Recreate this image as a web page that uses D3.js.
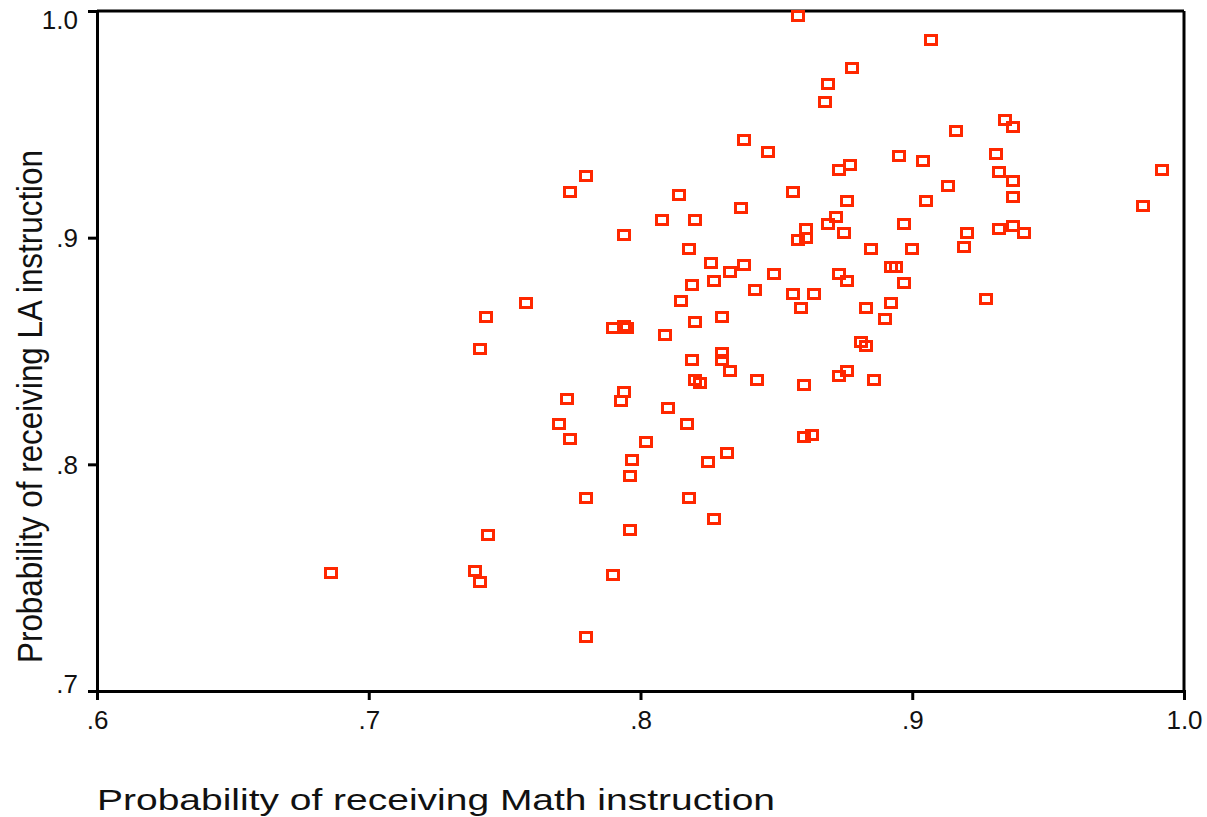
<!DOCTYPE html>
<html>
<head>
<meta charset="utf-8">
<script src="https://cdn.jsdelivr.net/npm/d3@7"></script>
<style>
  body { margin: 0; background: #fff; }
  text { font-family: "Liberation Sans", Arial, sans-serif; }
</style>
</head>
<body>
<div id="chart"></div>
<script>
// Probability of receiving Math instruction (x) vs LA instruction (y), one square per school
const mathProb = [
  0.858, 0.907, 0.878, 0.869, 0.868, 0.934, 0.937, 0.916, 0.838, 0.847,
  0.931, 0.895, 0.904, 0.873, 0.877, 0.992, 0.932, 0.937, 0.913, 0.856,
  0.937, 0.876, 0.905, 0.985, 0.837, 0.872, 0.869, 0.897, 0.875, 0.861,
  0.861, 0.858, 0.920, 0.932, 0.937, 0.941, 0.919, 0.885, 0.900, 0.838,
  0.849, 0.842, 0.873, 0.876, 0.892, 0.894, 0.897, 0.856, 0.864, 0.859,
  0.883, 0.892, 0.927, 0.890, 0.881, 0.883, 0.843, 0.873, 0.876, 0.860,
  0.886, 0.860, 0.863, 0.780, 0.774, 0.814, 0.808, 0.820, 0.794, 0.818,
  0.826, 0.833, 0.827, 0.819, 0.815, 0.758, 0.743, 0.830, 0.820, 0.790,
  0.794, 0.795, 0.809, 0.741, 0.819, 0.830, 0.830, 0.833, 0.820, 0.822,
  0.794, 0.793, 0.773, 0.810, 0.770, 0.817, 0.774, 0.802, 0.797, 0.832,
  0.825, 0.796, 0.780, 0.818, 0.744, 0.827, 0.796, 0.686, 0.739, 0.741,
  0.790, 0.780
];
const laProb = [
  0.998, 0.987, 0.975, 0.968, 0.960, 0.952, 0.949, 0.947, 0.943, 0.938,
  0.937, 0.936, 0.934, 0.930, 0.932, 0.930, 0.929, 0.925, 0.923, 0.920,
  0.918, 0.916, 0.916, 0.914, 0.913, 0.909, 0.906, 0.906, 0.902, 0.904,
  0.900, 0.899, 0.902, 0.904, 0.905, 0.902, 0.896, 0.895, 0.895, 0.888,
  0.884, 0.877, 0.884, 0.881, 0.887, 0.887, 0.880, 0.875, 0.875, 0.869,
  0.869, 0.871, 0.873, 0.864, 0.854, 0.852, 0.837, 0.839, 0.841, 0.835,
  0.837, 0.812, 0.813, 0.927, 0.920, 0.919, 0.908, 0.908, 0.901, 0.895,
  0.889, 0.885, 0.881, 0.879, 0.872, 0.871, 0.865, 0.865, 0.863, 0.860,
  0.861, 0.860, 0.857, 0.851, 0.846, 0.849, 0.846, 0.841, 0.837, 0.836,
  0.832, 0.828, 0.829, 0.825, 0.818, 0.818, 0.811, 0.810, 0.802, 0.805,
  0.801, 0.795, 0.785, 0.785, 0.769, 0.776, 0.771, 0.752, 0.753, 0.748,
  0.751, 0.724
];

const xTicks = [0.6, 0.7, 0.8, 0.9, 1.0];
const xTickLabels = [".6", ".7", ".8", ".9", "1.0"];
const yTicks = [0.7, 0.8, 0.9, 1.0];
const yTickLabels = [".7", ".8", ".9", "1.0"];

const xTitle = "Probability of receiving Math instruction";
const yTitle = "Probability of receiving LA instruction";

const width = 1207;
const height = 817;
const margin = {top: 11, right: 23, bottom: 126, left: 97};
const innerW = width - margin.left - margin.right;
const innerH = height - margin.top - margin.bottom;

const points = mathProb.map((m, i) => ({x: m, y: laProb[i]}));

const svg = d3.select("#chart")
  .append("svg")
  .attr("width", width)
  .attr("height", height);

const g = svg.append("g")
  .attr("transform", "translate(" + margin.left + "," + margin.top + ")");

const x = d3.scaleLinear().domain([0.6, 1.0]).range([0, innerW]);
const y = d3.scaleLinear().domain([0.7, 1.0]).range([innerH, 0]);

// frame top + right
g.append("line")
  .attr("x1", 0).attr("x2", x(1.0))
  .attr("y1", y(1.0)).attr("y2", y(1.0))
  .attr("stroke", "#000").attr("stroke-width", 3);
g.append("line")
  .attr("x1", x(1.0)).attr("x2", x(1.0))
  .attr("y1", y(1.0)).attr("y2", y(0.7))
  .attr("stroke", "#000").attr("stroke-width", 3);

// X axis
const xAxis = g.append("g")
  .attr("transform", "translate(0," + innerH + ")")
  .call(d3.axisBottom(x)
    .tickValues(xTicks)
    .tickFormat((d, i) => xTickLabels[i])
    .tickSize(9)
    .tickPadding(11));

// Y axis
const yAxis = g.append("g")
  .call(d3.axisLeft(y)
    .tickValues(yTicks)
    .tickFormat((d, i) => yTickLabels[i])
    .tickSize(9)
    .tickPadding(10));

[xAxis, yAxis].forEach(ax => {
  ax.attr("font-size", 26);
  ax.select(".domain").attr("stroke", "#000").attr("stroke-width", 3);
  ax.selectAll(".tick line").attr("stroke", "#000").attr("stroke-width", 3);
  ax.selectAll(".tick text")
    .attr("fill", "#111")
    .style("font-size", "26px");
});

// end labels on the y axis sit inside the range
yAxis.selectAll(".tick text")
  .attr("dy", d => d === 1.0 ? "0.68em" : d === 0.7 ? "0.05em" : "0.35em");

// Points
g.append("g")
  .selectAll("rect")
  .data(points)
  .join("rect")
  .attr("x", d => Math.round(x(d.x)) - 5.5)
  .attr("y", d => Math.round(y(d.y)) - 4.5)
  .attr("width", 11)
  .attr("height", 9)
  .attr("fill", "none")
  .attr("stroke", "#ff2800")
  .attr("stroke-width", 3);

// Axis titles
svg.append("text")
  .attr("x", margin.left)
  .attr("y", 810)
  .attr("textLength", 678)
  .attr("lengthAdjust", "spacingAndGlyphs")
  .style("font-size", "30px")
  .attr("fill", "#111")
  .text(xTitle);

svg.append("text")
  .attr("transform", "translate(42,663) rotate(-90)")
  .attr("textLength", 513)
  .attr("lengthAdjust", "spacingAndGlyphs")
  .style("font-size", "35px")
  .attr("fill", "#111")
  .text(yTitle);
</script>
</body>
</html>
